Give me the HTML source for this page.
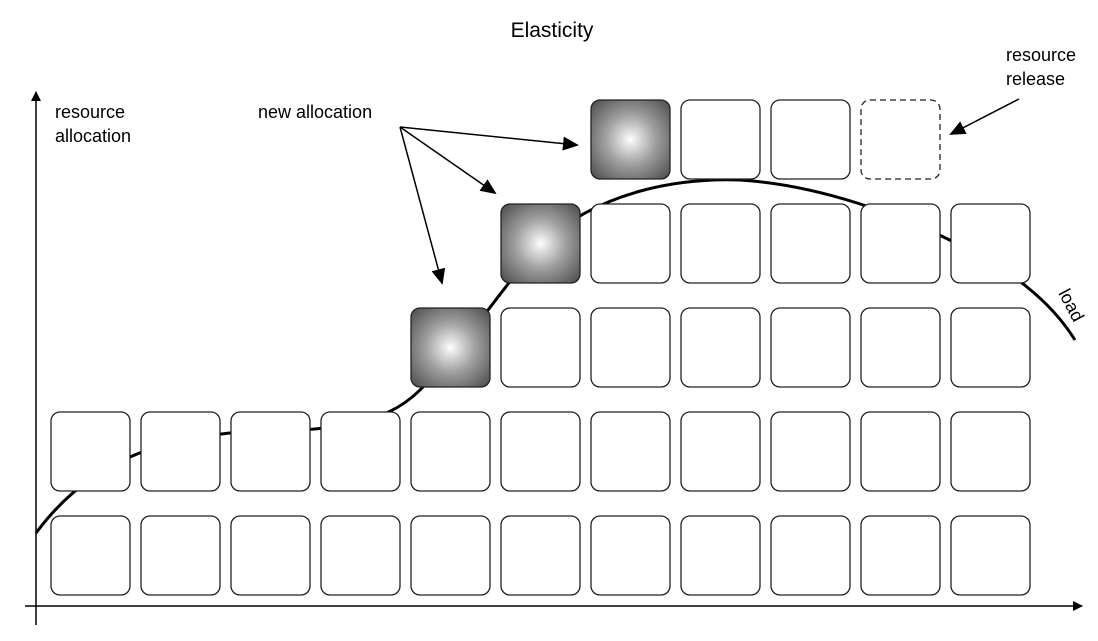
<!DOCTYPE html>
<html><head><style>body{margin:0;background:#fff}svg{display:block}</style></head><body>
<svg width="1098" height="641" xmlns="http://www.w3.org/2000/svg" font-family="Liberation Sans, sans-serif">
<defs>
<radialGradient id="g" cx="50%" cy="50%" r="70%">
<stop offset="0" stop-color="#fff"/><stop offset="0.1" stop-color="#e8e8e8"/><stop offset="0.45" stop-color="#a0a0a0"/><stop offset="1" stop-color="#4a4a4a"/>
</radialGradient>
<marker id="a" markerWidth="10" markerHeight="10" refX="9" refY="5" orient="auto" markerUnits="userSpaceOnUse"><path d="M0,0 L10,5 L0,10z" fill="#000"/></marker>
<marker id="b" markerWidth="16" markerHeight="14" refX="14" refY="7" orient="auto" markerUnits="userSpaceOnUse"><path d="M0,0 L16,7 L0,14z" fill="#000"/></marker>
</defs>
<text x="552" y="37" font-size="21" text-anchor="middle">Elasticity</text>
<line x1="36" y1="625" x2="36" y2="92" stroke="#000" stroke-width="1.5" marker-end="url(#a)"/>
<line x1="25" y1="606" x2="1082" y2="606" stroke="#000" stroke-width="1.5" marker-end="url(#a)"/>
<text font-size="18" x="55" y="118">resource</text>
<text font-size="18" x="55" y="142">allocation</text>
<text font-size="18" x="258" y="118">new allocation</text>
<text font-size="18" x="1006" y="61">resource</text>
<text font-size="18" x="1006" y="85">release</text>
<text font-size="18" transform="translate(1058,293) rotate(62)">load</text>
<path d="M36,533 C90,460 160,440 230,433 C320,430 380,430 420,390 C470,340 500,290 540,245 C600,190 680,178 740,180 C820,185 900,215 960,245 C1010,270 1050,300 1075,340" fill="none" stroke="#000" stroke-width="3"/>
<g fill="#fff" stroke="#222" stroke-width="1.3">
<g id="r5">
<rect x="51" y="516" width="79" height="79" rx="9"/><rect x="141" y="516" width="79" height="79" rx="9"/><rect x="231" y="516" width="79" height="79" rx="9"/><rect x="321" y="516" width="79" height="79" rx="9"/><rect x="411" y="516" width="79" height="79" rx="9"/><rect x="501" y="516" width="79" height="79" rx="9"/><rect x="591" y="516" width="79" height="79" rx="9"/><rect x="681" y="516" width="79" height="79" rx="9"/><rect x="771" y="516" width="79" height="79" rx="9"/><rect x="861" y="516" width="79" height="79" rx="9"/><rect x="951" y="516" width="79" height="79" rx="9"/>
</g>
<use href="#r5" y="-104"/>
<rect x="501" y="308" width="79" height="79" rx="9"/><rect x="591" y="308" width="79" height="79" rx="9"/><rect x="681" y="308" width="79" height="79" rx="9"/><rect x="771" y="308" width="79" height="79" rx="9"/><rect x="861" y="308" width="79" height="79" rx="9"/><rect x="951" y="308" width="79" height="79" rx="9"/>
<rect x="591" y="204" width="79" height="79" rx="9"/><rect x="681" y="204" width="79" height="79" rx="9"/><rect x="771" y="204" width="79" height="79" rx="9"/><rect x="861" y="204" width="79" height="79" rx="9"/><rect x="951" y="204" width="79" height="79" rx="9"/>
<rect x="681" y="100" width="79" height="79" rx="9"/><rect x="771" y="100" width="79" height="79" rx="9"/>
<rect x="861" y="100" width="79" height="79" rx="9" stroke-dasharray="6,4"/>
<rect x="411" y="308" width="79" height="79" rx="9" fill="url(#g)"/>
<rect x="501" y="204" width="79" height="79" rx="9" fill="url(#g)"/>
<rect x="591" y="100" width="79" height="79" rx="9" fill="url(#g)"/>
</g>
<g stroke="#000" stroke-width="1.5" fill="none">
<line x1="400" y1="127" x2="577" y2="145" marker-end="url(#b)"/>
<line x1="400" y1="127" x2="495" y2="193" marker-end="url(#b)"/>
<line x1="400" y1="127" x2="442" y2="283" marker-end="url(#b)"/>
<line x1="1019" y1="99" x2="951" y2="134" marker-end="url(#b)"/>
</g>
</svg>
</body></html>
